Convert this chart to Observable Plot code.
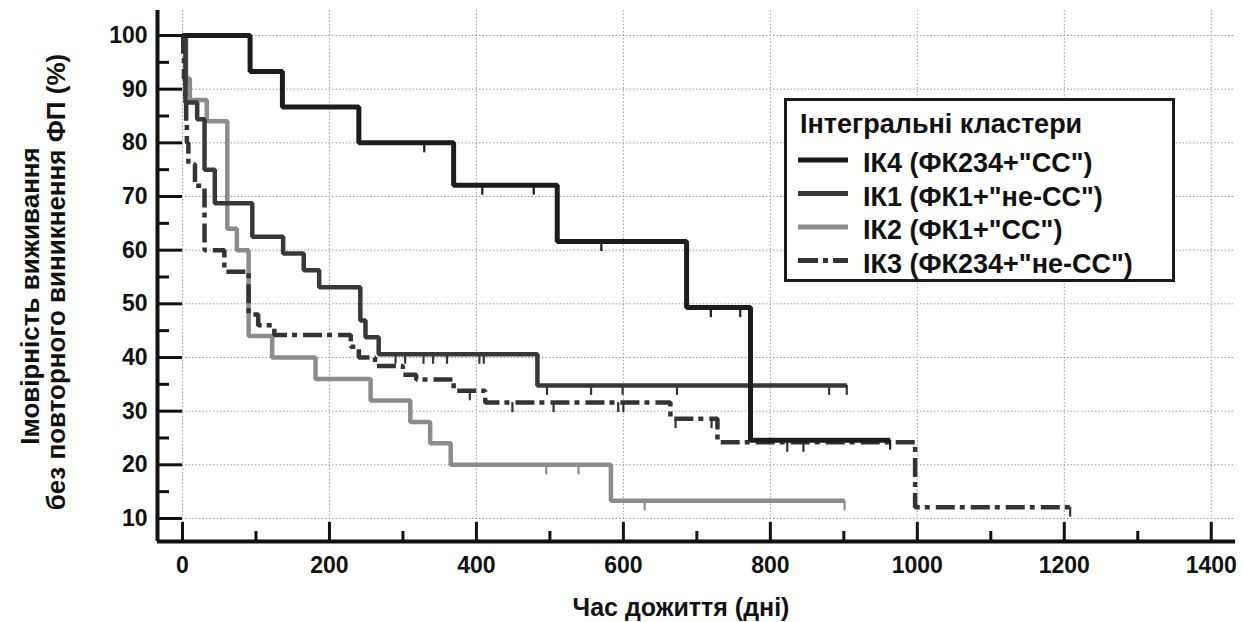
<!DOCTYPE html>
<html>
<head>
<meta charset="utf-8">
<script src="https://cdn.jsdelivr.net/npm/d3@7"></script>
<script src="https://cdn.jsdelivr.net/npm/@observablehq/plot@0.6"></script>
<style>
  body { margin: 0; background: #fff; }
  #chart { width: 1243px; height: 622px; }
</style>
</head>
<body>
<div id="chart"></div>
<script>
// ---- tick values ----
const xMajor = [0, 200, 400, 600, 800, 1000, 1200, 1400];
const xMinor = [100, 300, 500, 700, 900, 1100, 1300];
const yMajor = [10, 20, 30, 40, 50, 60, 70, 80, 90, 100];
const yMinor = [15, 25, 35, 45, 55, 65, 75, 85, 95];

// ---- text ----
const xTitle = "Час дожиття (дні)";
const yTitle1 = "Імовірність виживання";
const yTitle2 = "без повторного виникнення ФП (%)";
const legendTitle = "Інтегральні кластери";
const seriesNames = ["ІК4 (ФК234+\"СС\")", "ІК1 (ФК1+\"не-СС\")", "ІК2 (ФК1+\"СС\")", "ІК3 (ФК234+\"не-СС\")"];

// ---- IK4 ----
const ik4Times = [0, 92, 136, 240, 369, 510, 686, 773];
const ik4Surv  = [100, 93.3, 86.7, 80, 72.1, 61.6, 49.3, 24.6];
const ik4End = 963;
const ik4Censor = [329, 408, 478, 570, 719, 759, 963];

// ---- IK1 ----
const ik1Times = [0, 4, 20, 30, 44, 95, 137, 165, 186, 242, 249, 267, 483];
const ik1Surv  = [100, 87.5, 84.4, 75, 68.75, 62.5, 59.4, 56.25, 53.1, 46.9, 43.75, 40.6, 34.8];
const ik1End = 904;
const ik1Censor = [290, 303, 328, 341, 360, 404, 410, 496, 556, 599, 673, 880, 904];

// ---- IK2 ----
const ik2Times = [0, 5, 10, 33, 61, 74, 90, 122, 181, 256, 310, 337, 365, 583];
const ik2Surv  = [100, 92, 88, 84, 64, 60, 44, 40, 36, 32, 28, 24, 20, 13.3];
const ik2End = 901;
const ik2Censor = [495, 539, 629, 901];

// ---- IK3 ----
const ik3Times = [0, 1, 2, 4, 5, 6, 8, 17, 30, 57, 90, 103, 125, 229, 240, 262, 300, 318, 369, 412, 664, 728, 997];
const ik3Surv  = [100, 96, 92, 88, 84, 80, 76, 72, 60, 56, 48, 46, 44.2, 42, 40, 38.4, 36.8, 35.9, 33.8, 31.6, 28.6, 24.2, 12.1];
const ik3End = 1208;
const ik3Censor = [391, 449, 505, 593, 600, 671, 720, 823, 845, 1208];

const seriesStyle = [
  {stroke: "#1c1c1c", width: 5, dash: null},
  {stroke: "#383838", width: 4.5, dash: null},
  {stroke: "#8c8c8c", width: 4.5, dash: null},
  {stroke: "#333333", width: 4.5, dash: "19,5,5,6"}
];
const seriesData = [
  [ik4Times, ik4Surv, ik4End, ik4Censor],
  [ik1Times, ik1Surv, ik1End, ik1Censor],
  [ik2Times, ik2Surv, ik2End, ik2Censor],
  [ik3Times, ik3Surv, ik3End, ik3Censor]
];

// ---- layout ----
const W = 1243, H = 622;
const mL = 157, mR = 8, mT = 10, mB = 81;
const xDom = [-34, 1433], yDom = [5.71, 104.66];
const kx = (W - mL - mR) / (xDom[1] - xDom[0]);
const ky = (H - mT - mB) / (yDom[1] - yDom[0]);
const FONT = "'Liberation Sans', Arial, Helvetica, sans-serif";

function survAt(times, surv, t) {
  let v = surv[0];
  for (let i = 0; i < times.length; i++) if (times[i] <= t) v = surv[i];
  return v;
}

const curveMarks = [];
const drawOrder = [2, 3, 1, 0];
for (const i of drawOrder) {
  const [times, surv, end, cens] = seriesData[i];
  const st = seriesStyle[i];
  const pts = times.map((t, j) => ({t, s: surv[j]}));
  pts.push({t: end, s: surv[surv.length - 1]});
  curveMarks.push(Plot.line(pts, {
    x: "t", y: "s", curve: "step-after",
    stroke: st.stroke, strokeWidth: st.width,
    strokeDasharray: st.dash || undefined,
    strokeLinejoin: "miter", strokeLinecap: "butt"
  }));
  const crow = cens.map(t => ({t, s: survAt(times, surv, t)}));
  curveMarks.push(Plot.ruleX(crow, {
    x: "t", y1: "s", y2: d => d.s - 10 / ky,
    stroke: st.stroke, strokeWidth: 2.2
  }));
}

const chart = Plot.plot({
  width: W, height: H,
  marginLeft: mL, marginRight: mR, marginTop: mT, marginBottom: mB,
  x: {domain: xDom},
  y: {domain: yDom},
  style: {fontFamily: FONT, background: "#fff", color: "#111", overflow: "visible"},
  marks: [
    Plot.gridX({ticks: xMajor, stroke: "#9a9a9a", strokeOpacity: 1, strokeWidth: 1, strokeDasharray: "1.5,2"}),
    Plot.gridY({ticks: yMajor, stroke: "#9a9a9a", strokeOpacity: 1, strokeWidth: 1, strokeDasharray: "1.5,2"}),
    ...curveMarks,
    // tick marks pointing inward
    Plot.ruleY(yMajor, {x1: xDom[0], x2: xDom[0] + 25 / kx, stroke: "#111", strokeWidth: 3}),
    Plot.ruleY(yMinor, {x1: xDom[0], x2: xDom[0] + 12 / kx, stroke: "#111", strokeWidth: 3}),
    Plot.ruleX(xMajor, {y1: yDom[0], y2: yDom[0] + 19 / ky, stroke: "#111", strokeWidth: 3}),
    Plot.ruleX(xMinor, {y1: yDom[0], y2: yDom[0] + 10 / ky, stroke: "#111", strokeWidth: 3}),
    // axis lines
    Plot.ruleX([xDom[0]], {stroke: "#111", strokeWidth: 4}),
    Plot.ruleY([yDom[0]], {stroke: "#111", strokeWidth: 4}),
    Plot.axisX({ticks: xMajor, tickSize: 0, tickPadding: 15, fontSize: 23, fontWeight: "bold", label: null, tickFormat: d => String(d), fill: "#111"}),
    Plot.axisY({ticks: yMajor, anchor: "left", tickSize: 0, tickPadding: 10, fontSize: 23, fontWeight: "bold", label: null, tickFormat: d => String(d), fill: "#111"})
  ]
});

document.getElementById("chart").appendChild(chart);

const svg = d3.select(chart);
// axis titles
svg.append("text").text(xTitle)
  .attr("x", 681).attr("y", 616)
  .attr("text-anchor", "middle")
  .attr("font-family", FONT).attr("font-weight", "bold").attr("font-size", 25).attr("fill", "#111");
svg.append("text").text(yTitle1)
  .attr("transform", "translate(39,296) rotate(-90)")
  .attr("text-anchor", "middle")
  .attr("font-family", FONT).attr("font-weight", "bold").attr("font-size", 26).attr("fill", "#111");
svg.append("text").text(yTitle2)
  .attr("transform", "translate(65,282) rotate(-90)")
  .attr("text-anchor", "middle")
  .attr("font-family", FONT).attr("font-weight", "bold").attr("font-size", 26).attr("fill", "#111");

// legend
const lg = svg.append("g").attr("font-family", FONT).attr("font-weight", "bold").attr("fill", "#111").attr("text-anchor", "start");
lg.append("rect").attr("x", 785.5).attr("y", 99.5).attr("width", 388).attr("height", 181)
  .attr("fill", "#fff").attr("stroke", "#1a1a1a").attr("stroke-width", 3);
lg.append("text").text(legendTitle).attr("x", 800).attr("y", 133).attr("font-size", 27);
seriesNames.forEach((name, i) => {
  const y = 160 + 33.5 * i;
  const st = seriesStyle[i];
  lg.append("line").attr("x1", 798).attr("x2", 848).attr("y1", y).attr("y2", y)
    .attr("stroke", st.stroke).attr("stroke-width", 5)
    .attr("stroke-dasharray", st.dash ? "20,5,5,5" : null);
  lg.append("text").text(name).attr("x", 863).attr("y", y + 12).attr("font-size", 27);
});
</script>
</body>
</html>
